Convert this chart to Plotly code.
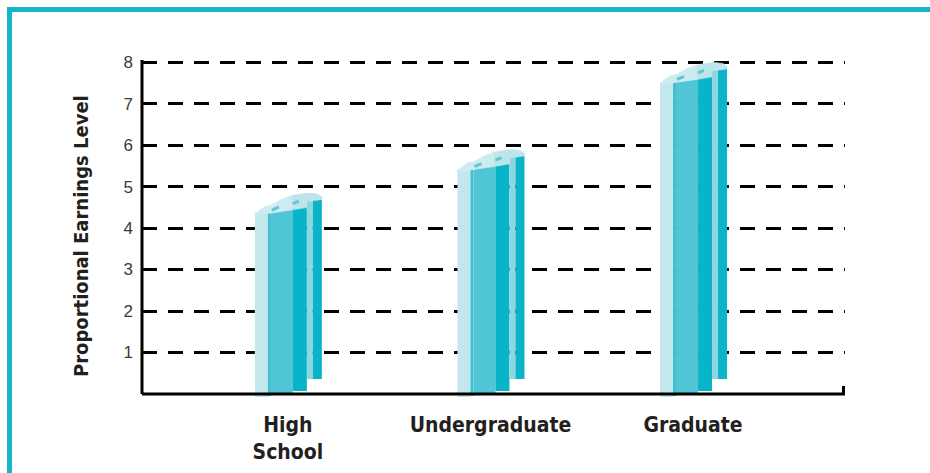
import plotly.graph_objects as go

# Earnings by level of education (proportional scale)
categories = ["High School", "Undergraduate", "Graduate"]
tick_text = ["High<br>School", "Undergraduate", "Graduate"]
earnings = [4.3, 5.35, 7.45]
y_ticks = [1, 2, 3, 4, 5, 6, 7, 8]

W, H = 930, 473
L, R, T, B = 142, 845, 60, 399
X_RANGE = [-0.72, 2.75]
Y_RANGE = [-0.12, 8.05]
PX_X = (R - L) / (X_RANGE[1] - X_RANGE[0])   # pixels per x unit
PX_Y = (B - T) / (Y_RANGE[1] - Y_RANGE[0])   # pixels per y unit


def dx(p):
    return p / PX_X


def dy(p):
    return p / PX_Y


def xp(px):
    return (px - L) / (R - L)


def yp(py):
    return (B - py) / (B - T)


xs = list(range(len(categories)))
fig = go.Figure()

# column stripes: left/right edge offsets (px), top rise (px), base (px above axis), colour
stripes = [
    (-33, -20, 3.0, -3, "#c2e7ed"),
    (-20, -17, 3.5, -2, "#3fbfd0"),
    (-17, 5, 6.0, -1, "#4fc5d5"),
    (5, 19, 8.5, 3, "#07b4c8"),
    (19, 25, 15.0, 15, "#8fd6e0"),
    (25, 34, 16.0, 15, "#0cb4c9"),
]
for left, right, rise, base_px, color in stripes:
    bases = [dy(base_px) for _ in earnings]
    tops = [v + dy(rise) for v in earnings]
    fig.add_trace(go.Bar(
        x=xs, y=[t - b for t, b in zip(tops, bases)], base=bases,
        width=dx(right - left), offset=dx(left),
        marker=dict(color=color, line=dict(width=0)),
        hoverinfo="skip", showlegend=False,
    ))

# top cap of each column (dollar-sign outline), split into a lit and a shaded half
cap_left = [(-33, 0), (-29, 5), (-23, 9), (-17, 10.5), (-12, 13), (-6, 16.5),
            (2, 19.5), (4, 20), (4, 5.5), (-33, 0)]
cap_right = [(4, 20), (12, 21.5), (22, 22.5), (30, 21.5), (34, 18.5), (34, 16),
             (19, 14), (19, 8), (4, 5.5), (4, 20)]
marks = [[(-16, 5.5), (-9, 8.5)], [(5, 12), (11, 14.5)]]
for i, v in zip(xs, earnings):
    for poly, col in ((cap_left, "#cdebf1"), (cap_right, "#bde4eb")):
        fig.add_trace(go.Scatter(
            x=[i + dx(a) for a, _ in poly], y=[v + dy(b) for _, b in poly],
            mode="lines", fill="toself", fillcolor=col,
            line=dict(width=0.5, color=col),
            hoverinfo="skip", showlegend=False,
        ))
    for seg in marks:
        fig.add_trace(go.Scatter(
            x=[i + dx(a) for a, _ in seg], y=[v + dy(b) for _, b in seg],
            mode="lines", line=dict(width=3, color="#5cc8d7"),
            hoverinfo="skip", showlegend=False,
        ))

shapes = [
    # frame
    dict(type="rect", xref="paper", yref="paper",
         x0=xp(7), x1=xp(W + 20), y0=yp(7), y1=yp(12),
         fillcolor="#16b4c8", line=dict(width=0), layer="above"),
    dict(type="rect", xref="paper", yref="paper",
         x0=xp(7), x1=xp(12), y0=yp(7), y1=yp(H + 20),
         fillcolor="#16b4c8", line=dict(width=0), layer="above"),
    # axes
    dict(type="line", xref="paper", yref="y", x0=0, x1=0, y0=0, y1=8.05,
         line=dict(color="black", width=3), layer="above"),
    dict(type="line", xref="paper", yref="y", x0=0, x1=1, y0=0, y1=0,
         line=dict(color="black", width=3), layer="above"),
    dict(type="line", xref="paper", yref="y", x0=1 - 1.5 / (R - L), x1=1 - 1.5 / (R - L),
         y0=0, y1=dy(8), line=dict(color="black", width=3), layer="above"),
]

fig.update_layout(
    width=W, height=H,
    margin=dict(l=L, r=W - R, t=T, b=H - B),
    paper_bgcolor="white", plot_bgcolor="white",
    barmode="overlay",
    showlegend=False,
    shapes=shapes,
    xaxis=dict(
        range=X_RANGE, tickvals=xs, ticktext=tick_text, automargin=False,
        showgrid=False, zeroline=False, showline=False, ticks="",
        tickfont=dict(family="DejaVu Sans Condensed", size=21, color="#231f20", weight="bold"),
        ticklabelstandoff=11,
    ),
    yaxis=dict(
        range=Y_RANGE, tickvals=y_ticks, ticktext=[str(t) for t in y_ticks], automargin=False,
        showgrid=True, gridcolor="black", gridwidth=2.5, griddash="15px,11px",
        zeroline=False, showline=False, ticks="",
        tickfont=dict(family="Liberation Sans", size=17, color="#3a3a3a"),
        ticklabelstandoff=8,
    ),
    annotations=[dict(
        text="Proportional Earnings Level", textangle=-90,
        xref="paper", yref="paper", x=xp(81), y=yp(236),
        xanchor="center", yanchor="middle", showarrow=False,
        font=dict(family="DejaVu Sans Condensed", size=20, color="#231f20", weight="bold"),
    )],
)

fig.write_html("out.html")
